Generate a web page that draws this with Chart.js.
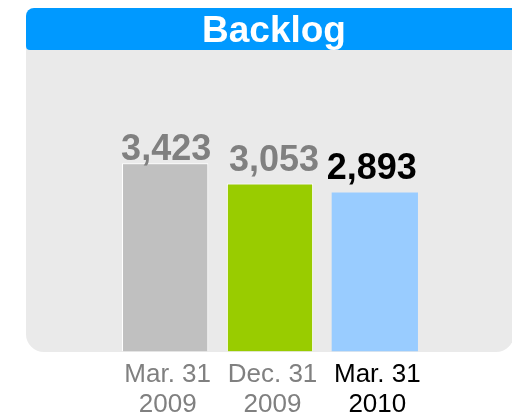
<!DOCTYPE html>
<html>
<head>
<meta charset="utf-8">
<script src="https://cdn.jsdelivr.net/npm/chart.js@4/dist/chart.umd.min.js"></script>
<style>
html,body{margin:0;padding:0;background:#fff;}
#wrap{width:512px;height:416px;position:relative;}
</style>
</head>
<body>
<div id="wrap"><canvas id="c" width="512" height="416"></canvas></div>
<script>
const title = "Backlog";
const categories = [["Mar. 31", "2009"], ["Dec. 31", "2009"], ["Mar. 31", "2010"]];
const backlog = [3423, 3053, 2893];
const valueLabels = ["3,423", "3,053", "2,893"];
const barColors = ["#C0C0C0", "#99CC00", "#99CCFF"];
const barBorders = [1, 1, 0];
const textColors = ["#808080", "#808080", "#000000"];

const FONT = "'Liberation Sans', Arial, sans-serif";

function rr(ctx, x, y, w, h, r) {
  ctx.beginPath();
  ctx.moveTo(x + r[0], y);
  ctx.lineTo(x + w - r[1], y);
  ctx.arcTo(x + w, y, x + w, y + r[1], r[1]);
  ctx.lineTo(x + w, y + h - r[2]);
  ctx.arcTo(x + w, y + h, x + w - r[2], y + h, r[2]);
  ctx.lineTo(x + r[3], y + h);
  ctx.arcTo(x, y + h, x, y + h - r[3], r[3]);
  ctx.lineTo(x, y + r[0]);
  ctx.arcTo(x, y, x + r[0], y, r[0]);
  ctx.closePath();
}

const decor = {
  id: 'decor',
  beforeDraw(chart) {
    const ctx = chart.ctx;
    ctx.save();
    ctx.fillStyle = '#EAEAEA';
    rr(ctx, 26, 48, 488, 304, [0, 0, 18, 18]);
    ctx.fill();
    ctx.fillStyle = '#0099FF';
    rr(ctx, 26, 8, 500, 42, [8, 0, 0, 4]);
    ctx.fill();
    ctx.fillStyle = '#FFFFFF';
    ctx.font = 'bold 37px ' + FONT;
    ctx.textAlign = 'center';
    ctx.textBaseline = 'alphabetic';
    ctx.fillText(title, 274, 42);
    ctx.restore();
  },
  afterDatasetsDraw(chart, args, opts) {
    const ctx = chart.ctx;
    const meta = chart.getDatasetMeta(0);
    const xs = chart.scales.x;
    ctx.save();
    ctx.textAlign = 'center';
    ctx.textBaseline = 'alphabetic';
    meta.data.forEach((bar, i) => {
      ctx.fillStyle = textColors[i];
      ctx.font = 'bold 36px ' + FONT;
      ctx.fillText(valueLabels[i], bar.x + opts.valueDx[i], bar.y - opts.valueGap[i]);
      const cx = xs.getPixelForValue(i) + 2.5;
      ctx.font = '26px ' + FONT;
      ctx.fillText(categories[i][0], cx, 382);
      ctx.fillText(categories[i][1], cx, 412);
    });
    ctx.restore();
  }
};

new Chart(document.getElementById('c'), {
  type: 'bar',
  data: {
    labels: categories.map(c => c.join(' ')),
    datasets: [{
      data: backlog,
      backgroundColor: barColors,
      borderColor: '#FFFFFF',
      borderWidth: barBorders,
      borderSkipped: 'bottom',
      barPercentage: 0.823,
      categoryPercentage: 1.0
    }]
  },
  options: {
    responsive: false,
    animation: false,
    layout: { padding: { left: 112.75, right: 84.75, top: 49, bottom: 64.5 } },
    plugins: {
      legend: { display: false },
      tooltip: { enabled: false },
      decor: { valueGap: [3, 13, 13], valueDx: [1, 4, -3] }
    },
    scales: {
      x: { display: false },
      y: { display: false, min: 0, max: 5500 }
    }
  },
  plugins: [decor]
});
</script>
</body>
</html>
